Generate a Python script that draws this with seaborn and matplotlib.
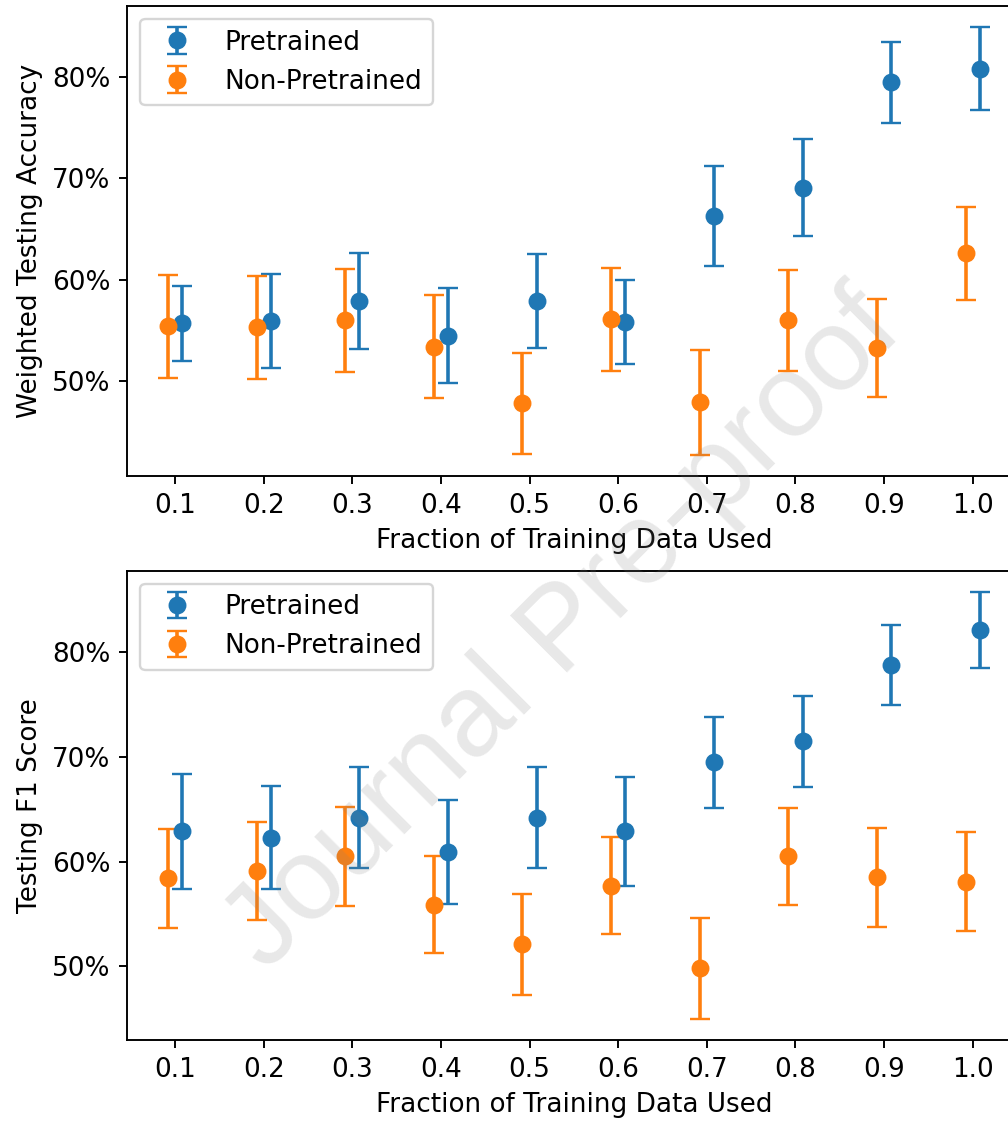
import numpy as np
import matplotlib
matplotlib.use("Agg")
import matplotlib.pyplot as plt
import seaborn as sns
from matplotlib.ticker import PercentFormatter, MultipleLocator

# fraction of training data used
fractions = [0.1, 0.2, 0.3, 0.4, 0.5, 0.6, 0.7, 0.8, 0.9, 1.0]

# weighted testing accuracy (%), mean and error
pre_acc = [55.7, 55.9, 57.9, 54.5, 57.9, 55.8, 66.3, 69.1, 79.5, 80.8]
pre_acc_err = [3.7, 4.65, 4.7, 4.7, 4.65, 4.15, 4.9, 4.8, 4.0, 4.1]
non_acc = [55.4, 55.3, 56.0, 53.4, 47.8, 56.1, 47.9, 56.0, 53.3, 62.6]
non_acc_err = [5.1, 5.1, 5.05, 5.05, 5.0, 5.1, 5.15, 4.95, 4.85, 4.6]

# testing F1 score (%), mean and error
pre_f1 = [62.9, 62.3, 64.2, 60.9, 64.2, 62.9, 69.5, 71.5, 78.8, 82.1]
pre_f1_err = [5.5, 4.9, 4.85, 4.95, 4.8, 5.2, 4.35, 4.35, 3.8, 3.65]
non_f1 = [58.4, 59.1, 60.5, 55.9, 52.1, 57.7, 49.8, 60.5, 58.5, 58.1]
non_f1_err = [4.7, 4.7, 4.75, 4.65, 4.8, 4.65, 4.8, 4.65, 4.75, 4.75]

plt.rcParams["font.size"] = 11

colors = sns.color_palette("tab10", 2)
x = np.array(fractions)
shift = 0.008

dpi = 172
fig = plt.figure(figsize=(1008 / dpi, 1123 / dpi), dpi=dpi)

# axes run past the right edge like in the cropped original
ax1 = fig.add_axes([0.1263, 0.5761, 0.886, 0.4186])
ax2 = fig.add_axes([0.1263, 0.0739, 0.886, 0.4179])

panels = [
    (ax1, pre_acc, pre_acc_err, non_acc, non_acc_err, "Weighted Testing Accuracy"),
    (ax2, pre_f1, pre_f1_err, non_f1, non_f1_err, "Testing F1 Score"),
]

for ax, pre, pre_err, non, non_err, ylabel in panels:
    ax.errorbar(x + shift, pre, yerr=pre_err, fmt="o", color=colors[0],
                capsize=4, markersize=6.5, label="Pretrained")
    ax.errorbar(x - shift, non, yerr=non_err, fmt="o", color=colors[1],
                capsize=4, markersize=6.5, label="Non-Pretrained")
    ax.set_xticks(fractions)
    ax.set_xticklabels([f"{f:.1f}" for f in fractions])
    ax.yaxis.set_major_locator(MultipleLocator(10))
    ax.yaxis.set_major_formatter(PercentFormatter(100, decimals=0))
    ax.set_xlabel("Fraction of Training Data Used")
    ax.set_ylabel(ylabel)
    ax.legend(loc="upper left")

# watermark
fig.text(0.56, 0.437, "Journal Pre-proof", fontsize=49, family="Liberation Sans",
         color="gray", alpha=0.18, rotation=45, ha="center", va="center", zorder=10)

fig.savefig("out.png", dpi=dpi)
